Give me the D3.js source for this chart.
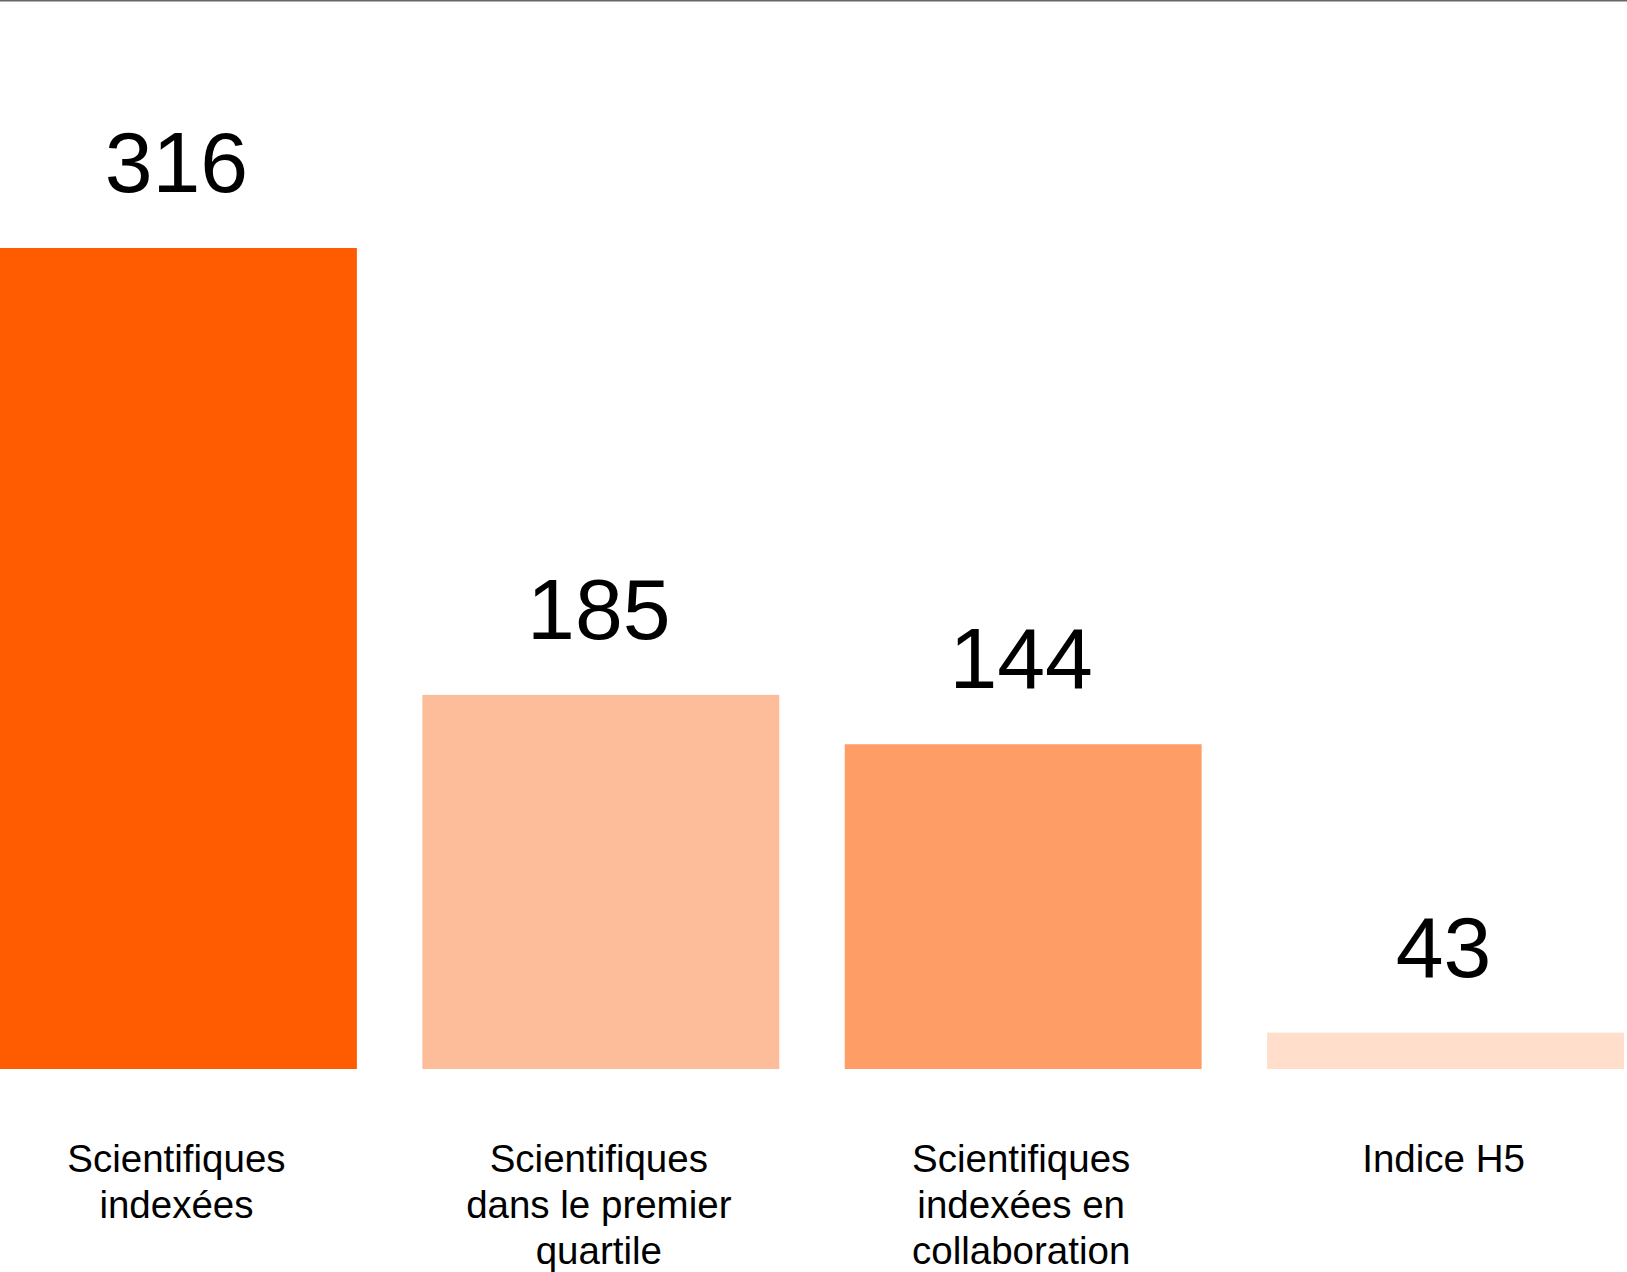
<!DOCTYPE html>
<html>
<head>
<meta charset="utf-8">
<script src="https://cdn.jsdelivr.net/npm/d3@7"></script>
<style>
  html, body { margin: 0; padding: 0; background: #fff; }
  svg { display: block; font-family: "Liberation Sans", Arial, sans-serif; }
</style>
</head>
<body>
<svg id="chart"></svg>
<script>
const W = 1627;
const H = 1272;

// categories, label lines as shown under each bar
const categories = ['sci', 'q1', 'collab', 'h5'];
const categoryLines = [
  ['Scientifiques', 'indexées'],
  ['Scientifiques', 'dans le premier', 'quartile'],
  ['Scientifiques', 'indexées en', 'collaboration'],
  ['Indice H5']
];
// bar lengths as drawn (not proportional to the printed numbers)
const barValues = [316, 144, 125, 14];
// numbers printed above the bars
const valueLabels = ['316', '185', '144', '43'];
const barColors = ['#ff5b00', '#fdbd9a', '#ff9d66', '#ffdecb'];

const svg = d3.select('#chart').attr('width', W).attr('height', H);

const baseline = 1069;
const x = d3.scaleBand().domain(categories).range([0, 1624]).paddingInner(0.155).paddingOuter(0);
const y = d3.scaleLinear().domain([0, 316]).range([baseline, 248]);

// thin rule along the top edge
svg.append('line')
  .attr('x1', 0).attr('x2', W).attr('y1', 0.75).attr('y2', 0.75)
  .attr('stroke', '#666').attr('stroke-width', 1.5);

const data = categories.map((c, i) => ({
  key: c, v: barValues[i], label: valueLabels[i], lines: categoryLines[i], color: barColors[i]
}));

svg.selectAll('rect.bar').data(data).join('rect')
  .attr('class', 'bar')
  .attr('x', d => x(d.key))
  .attr('y', d => y(d.v))
  .attr('width', x.bandwidth())
  .attr('height', d => baseline - y(d.v))
  .attr('fill', d => d.color);

// value labels above bars
svg.selectAll('text.val').data(data).join('text')
  .attr('class', 'val')
  .attr('x', d => x(d.key) + x.bandwidth() / 2 - 2)
  .attr('y', d => y(d.v) - 56)
  .attr('text-anchor', 'middle')
  .attr('font-size', 86)
  .attr('fill', '#000')
  .text(d => d.label);

// category labels below bars
const cat = svg.selectAll('text.cat').data(data).join('text')
  .attr('class', 'cat')
  .attr('text-anchor', 'middle')
  .attr('font-size', 38.5)
  .attr('fill', '#000');

cat.selectAll('tspan').data(d => d.lines.map(l => ({ l, cx: x(d.key) + x.bandwidth() / 2 - 2 })))
  .join('tspan')
  .attr('x', t => t.cx)
  .attr('y', (t, i) => 1172 + i * 46)
  .text(t => t.l);
</script>
</body>
</html>
